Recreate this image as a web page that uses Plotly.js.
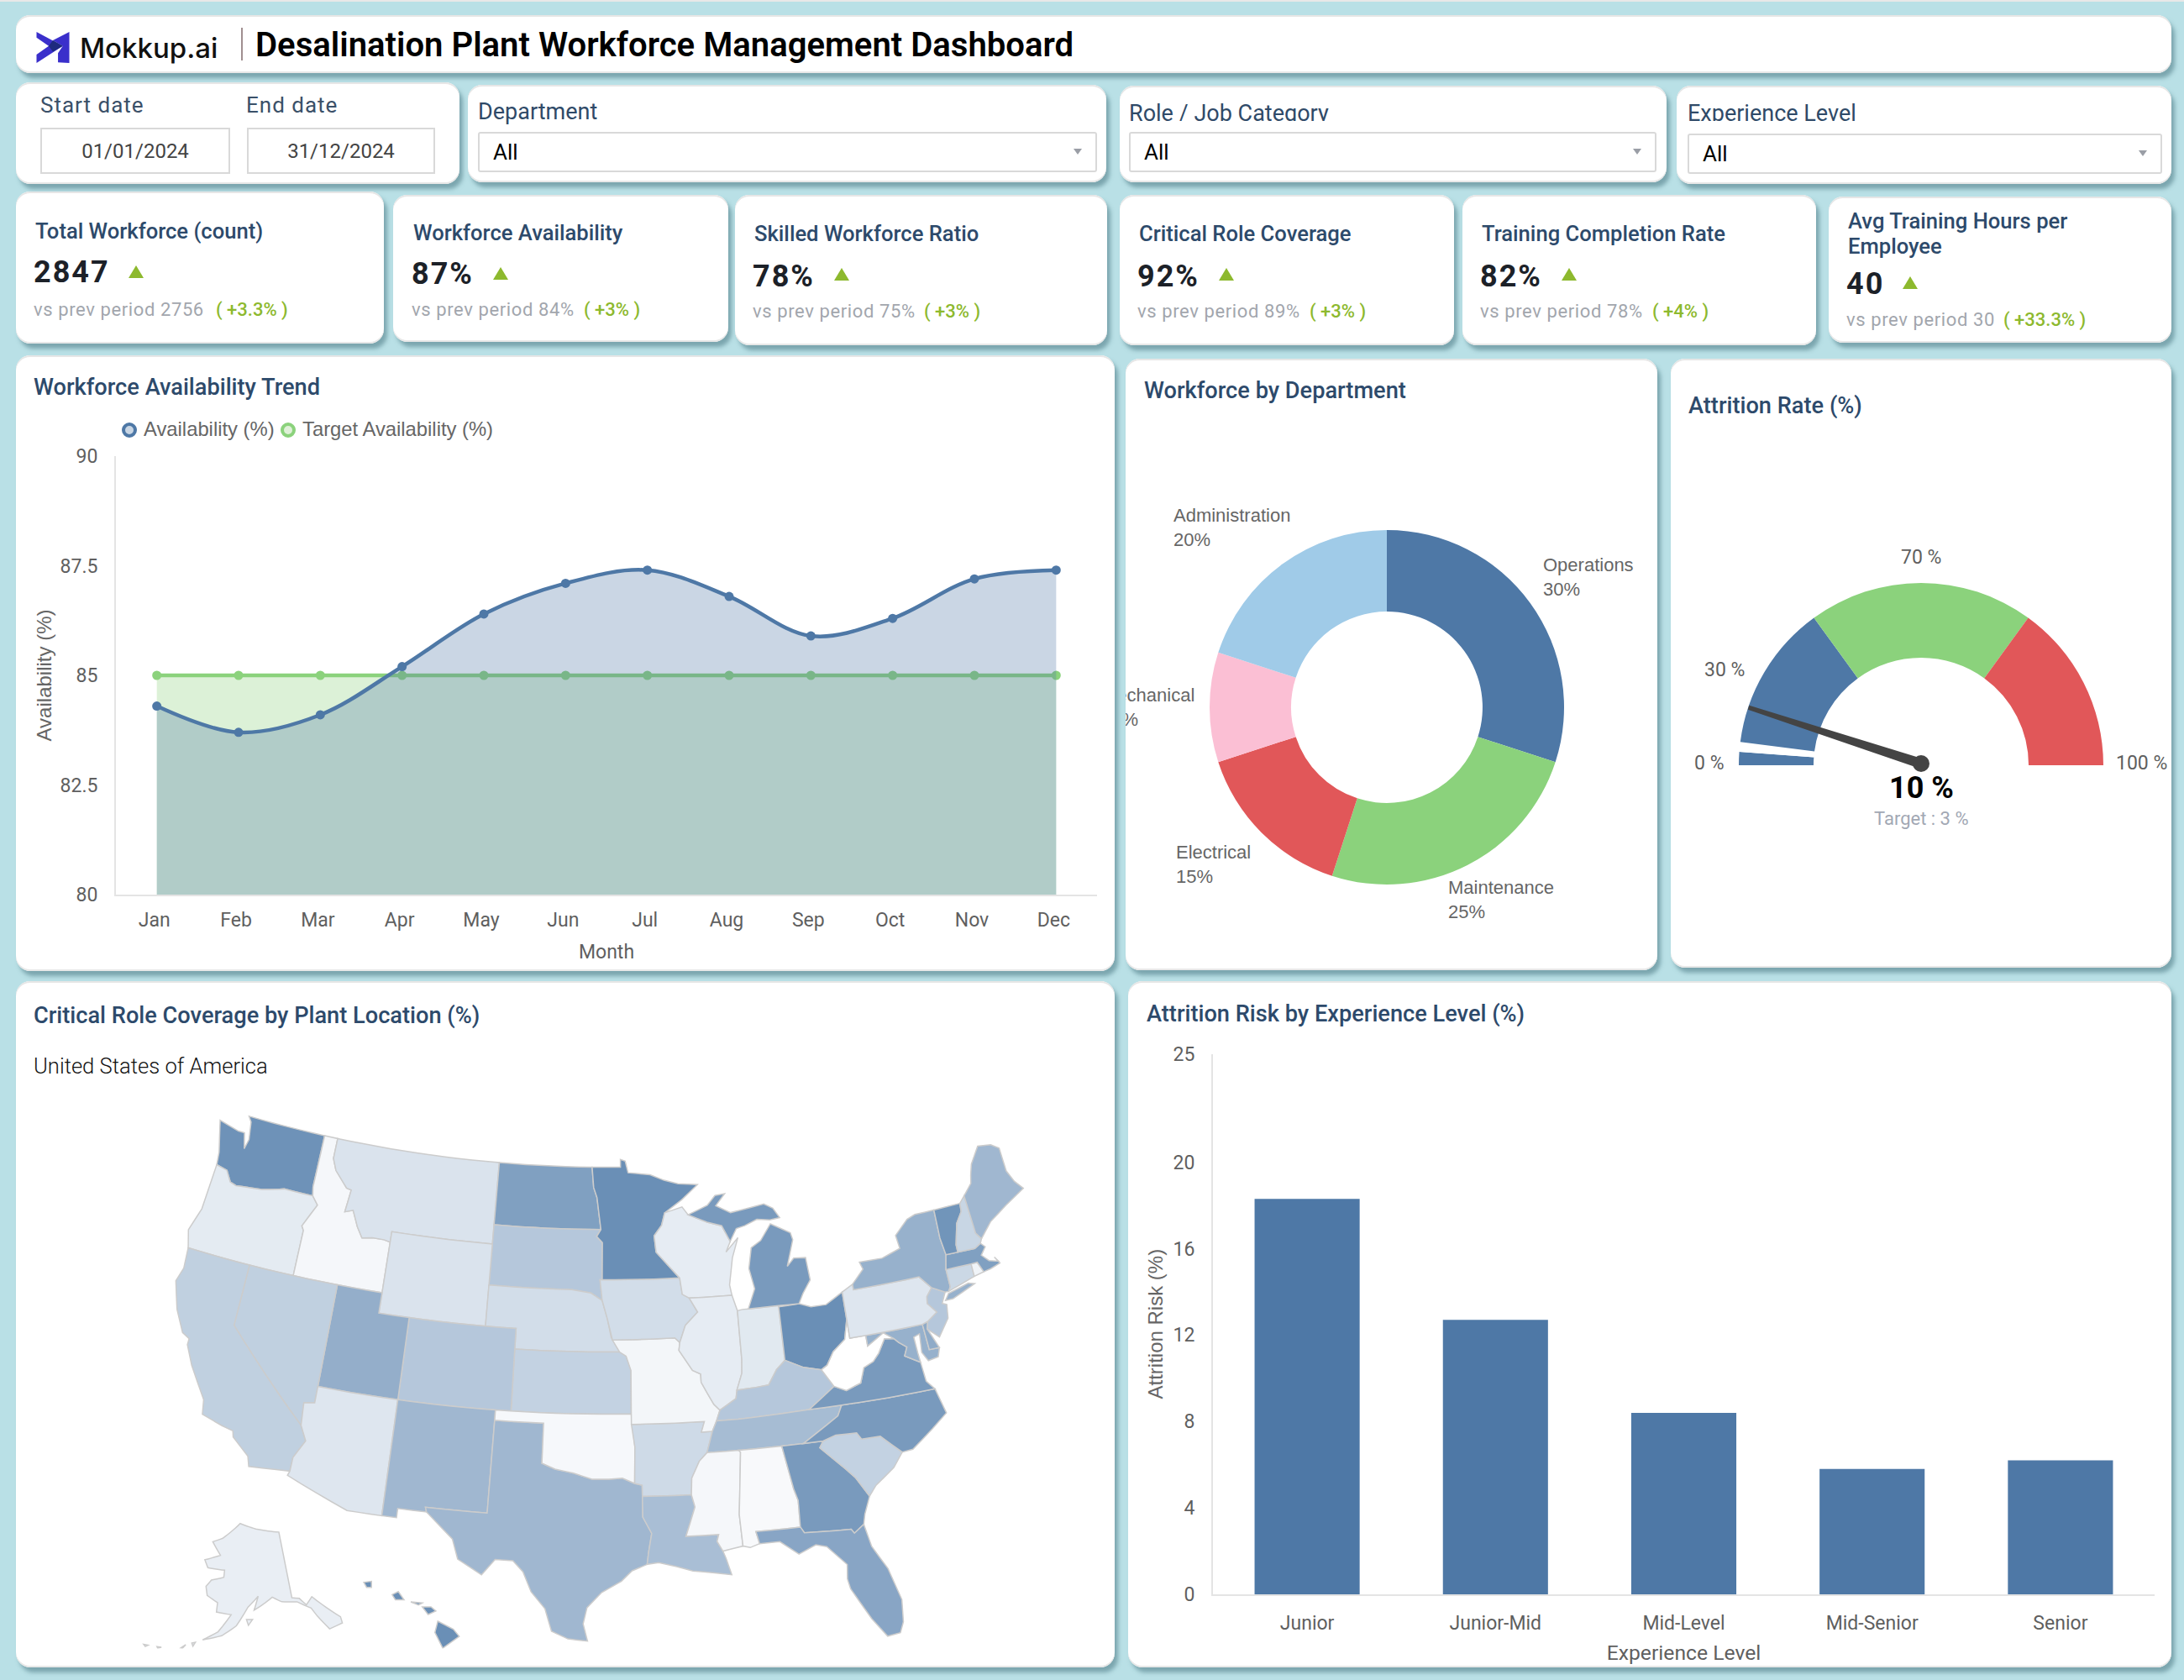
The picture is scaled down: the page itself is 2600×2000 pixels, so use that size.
<!DOCTYPE html>
<html><head><meta charset="utf-8">
<script src="https://cdn.plot.ly/plotly-3.0.1.min.js"></script>
<style>
html,body{margin:0;padding:0;background:#b9e0e6;}
#root{position:relative;width:2600px;height:2000px;overflow:hidden;background:#b9e0e6;font-family:Roboto,sans-serif}
.card{position:absolute;background:#fff;border-radius:17px;box-shadow:inset 0 2px 0 #e6e6e6,inset 0 -2px 0 #e8e8e8,4px 6px 5px rgba(72,118,130,.55);overflow:hidden}
.t{position:absolute;white-space:nowrap;line-height:1;transform:translateY(-50%)}
.box{position:absolute;background:#fff;border:2px solid #d9d9d9;box-sizing:border-box}
.tri{position:absolute;width:0;height:0;border-left:5px solid transparent;border-right:5px solid transparent;border-top:7px solid #9a9ea6}
.up{position:absolute;width:0;height:0;border-left:9px solid transparent;border-right:9px solid transparent;border-bottom:15px solid #8db92e}
.plot{position:absolute}
</style></head><body><div id="root"></div>
<script>
window.PlotlyGeoAssets={topojson:{usa_110m:{type:'Topology',objects:{},arcs:[]}}};
const months=["Jan","Feb","Mar","Apr","May","Jun","Jul","Aug","Sep","Oct","Nov","Dec"];
const availability=[84.3,83.7,84.1,85.2,86.4,87.1,87.4,86.8,85.9,86.3,87.2,87.4];
const targetAvailability=[85,85,85,85,85,85,85,85,85,85,85,85];
const departments=["Operations","Maintenance","Electrical","Mechanical","Administration"];
const departmentShare=[30,25,15,10,20];
const departmentColors=["#4e78a6","#8bd27c","#e15759","#fbbfd4","#a0cbe8"];
const attritionValue=10, attritionTarget=3;
const gaugeBands=[30,40,30];
const gaugeColors=["#4e78a6","#8bd27c","#e15759"];
const experienceLevels=["Junior","Junior-Mid","Mid-Level","Mid-Senior","Senior"];
const attritionRisk=[18.3,12.7,8.4,5.8,6.2];
const riskTicks=[0,4,8,12,16,20,25];
const stateCodes=["WA","OR","ID","MT","ND","SD","WY","NE","KS","CO","UT","NV","CA","AZ","NM","TX","OK","AR","LA","MO","IA","MN","WI","IL","IN","OH","KY","TN","MS","AL","GA","FL","SC","NC","VA","WV","MD","DE","NJ","PA","NY","CT","RI","MA","VT","NH","ME","MI","AK","HI"];
const stateCoverage=[97,18,7,25,85,50,25,30,40,50,72,42,42,22,64,64,6,33,58,8,30,100,17,17,20,100,50,60,7,5,90,80,40,90,90,0,70,75,50,22,70,35,10,85,95,37,64,90,15,100];
// state outlines: geographic lon/lat, projected by Plotly's albers usa
const stateShapes={
WA:[[[-124.7,48.4],[-123.2,48.15],[-122.75,48.15],[-122.45,47.4],[-122.3,47.9],[-122.5,48.75],[-122.76,49],[-117.03,49],[-117.04,46.42],[-116.92,45.99],[-118.98,46],[-119.3,45.93],[-120.5,45.7],[-121.2,45.65],[-122.3,45.55],[-122.75,45.65],[-123.2,46.15],[-124,46.27],[-124.1,46.9]]],
OR:[[[-124,46.27],[-123.2,46.15],[-122.75,45.65],[-122.3,45.55],[-121.2,45.65],[-120.5,45.7],[-119.3,45.93],[-118.98,46],[-116.92,45.99],[-116.46,45.6],[-116.85,45],[-117.2,44.45],[-117.03,44.25],[-117.03,42],[-124.21,42],[-124.55,42.84],[-124.1,44]]],
ID:[[[-117.03,49],[-116.05,49],[-116.05,48],[-115.7,47.45],[-114.7,46.7],[-114.35,46.65],[-114.5,45.55],[-113.95,45.7],[-113.45,44.95],[-113,44.45],[-112.3,44.55],[-111.5,44.55],[-111.05,44.48],[-111.05,42],[-117.03,42],[-117.03,44.25],[-117.2,44.45],[-116.85,45],[-116.46,45.6],[-116.92,45.99],[-117.04,46.42]]],
MT:[[[-116.05,49],[-104.05,49],[-104.05,45],[-111.05,45],[-111.05,44.48],[-111.5,44.55],[-112.3,44.55],[-113,44.45],[-113.45,44.95],[-113.95,45.7],[-114.5,45.55],[-114.35,46.65],[-114.7,46.7],[-115.7,47.45],[-116.05,48]]],
WY:[[[-111.05,45],[-104.05,45],[-104.05,41],[-111.05,41]]],
ND:[[[-104.05,49],[-97.23,49],[-97.1,48],[-96.85,47.5],[-96.56,45.94],[-104.05,45.94]]],
SD:[[[-104.05,45.94],[-96.56,45.94],[-96.85,45.6],[-96.45,45.3],[-96.45,43.5],[-96.6,43.5],[-96.45,42.5],[-97.2,42.85],[-98.5,43],[-104.05,43]]],
NE:[[[-104.05,43],[-98.5,43],[-97.2,42.85],[-96.45,42.5],[-96.1,41.6],[-95.85,40.7],[-95.31,40],[-102.05,40],[-102.05,41],[-104.05,41]]],
KS:[[[-102.05,40],[-95.31,40],[-94.9,39.8],[-94.6,39.1],[-94.62,37],[-102.04,37]]],
CO:[[[-109.05,41],[-102.05,41],[-102.05,40],[-102.04,37],[-109.05,37]]],
UT:[[[-114.05,42],[-111.05,42],[-111.05,41],[-109.05,41],[-109.05,37],[-114.05,37]]],
NV:[[[-120,42],[-114.05,42],[-114.05,36.2],[-114.7,36.1],[-114.6,35],[-120,39]]],
CA:[[[-124.21,42],[-120,42],[-120,39],[-114.6,35],[-114.15,34.3],[-114.7,33.4],[-114.72,32.72],[-117.12,32.53],[-117.3,33],[-118.4,33.75],[-118.5,34.03],[-119.2,34.15],[-120.5,34.45],[-120.65,35.15],[-121.9,36.6],[-122.5,37.5],[-122.5,37.8],[-123,38],[-123.75,39],[-124.35,40.3],[-124.1,41]]],
AZ:[[[-114.05,37],[-109.05,37],[-109.05,31.33],[-111.07,31.33],[-114.81,32.5],[-114.72,32.72],[-114.7,33.4],[-114.15,34.3],[-114.6,35],[-114.7,36.1],[-114.05,36.2]]],
NM:[[[-109.05,37],[-103,37],[-103.04,32],[-106.62,32],[-106.53,31.78],[-108.2,31.78],[-108.2,31.33],[-109.05,31.33]]],
TX:[[[-103,36.5],[-100,36.5],[-100,34.56],[-99.2,34.3],[-98.1,34.13],[-97,33.85],[-96,33.85],[-95.2,33.9],[-94.48,33.64],[-94.04,33.55],[-94.04,33],[-94.04,32],[-93.55,31.2],[-93.75,30.3],[-93.85,29.7],[-94.7,29.4],[-95.3,28.9],[-96.4,28.35],[-97.2,27.6],[-97.4,26.8],[-97.15,25.96],[-98.2,26.05],[-99.1,26.4],[-99.5,27.5],[-100.3,28.3],[-100.8,29.25],[-101.4,29.77],[-102.4,29.77],[-103.1,28.98],[-104.5,29.65],[-104.9,30.6],[-106.53,31.78],[-106.62,32],[-103.04,32]]],
OK:[[[-103,37],[-94.62,37],[-94.43,35.4],[-94.48,33.64],[-95.2,33.9],[-96,33.85],[-97,33.85],[-98.1,34.13],[-99.2,34.3],[-100,34.56],[-100,36.5],[-103,36.5]]],
AR:[[[-94.62,36.5],[-90.15,36.5],[-90.37,36],[-89.7,36],[-90.1,35],[-90.6,34.6],[-91.1,33.8],[-91.17,33],[-94.04,33],[-94.04,33.55],[-94.48,33.64],[-94.43,35.4]]],
LA:[[[-94.04,33],[-91.17,33],[-91,32.4],[-91.6,31],[-89.73,31],[-89.85,30.67],[-89.55,30.18],[-89.4,29.8],[-89.15,29],[-90.1,29.15],[-91.3,29.3],[-92.2,29.55],[-93.2,29.77],[-93.85,29.7],[-93.75,30.3],[-93.55,31.2],[-94.04,32]]],
MO:[[[-95.77,40.58],[-91.73,40.61],[-91.42,40.38],[-91.5,40],[-90.7,39],[-90.2,38.8],[-90.2,38.4],[-89.5,37.3],[-89.15,37],[-89.4,36.5],[-89.7,36],[-90.37,36],[-90.15,36.5],[-94.62,36.5],[-94.62,37],[-94.6,39.1],[-94.9,39.8],[-95.31,40]]],
IA:[[[-96.45,43.5],[-91.22,43.5],[-91.1,42.7],[-90.65,42.5],[-90.15,41.8],[-91,41.2],[-91.42,40.38],[-91.73,40.61],[-95.77,40.58],[-96.1,41.6],[-96.45,42.5],[-96.6,43.5]]],
MN:[[[-97.23,49],[-95.15,49],[-95.15,49.38],[-94.8,49.3],[-94.6,48.72],[-93,48.6],[-92,48.3],[-91,48.1],[-89.6,48],[-90.8,47.3],[-92.05,46.7],[-92.3,46.1],[-92.85,45.6],[-92.75,44.8],[-91.22,43.5],[-96.45,43.5],[-96.45,45.3],[-96.85,45.6],[-96.56,45.94],[-96.85,47.5],[-97.1,48]]],
WI:[[[-92.05,46.7],[-90.8,46.95],[-90.4,46.55],[-89.1,46.13],[-88.1,45.9],[-87.6,45.1],[-87.95,44.6],[-87.05,45.25],[-87.55,44.3],[-87.9,43],[-87.8,42.49],[-90.65,42.5],[-91.1,42.7],[-91.22,43.5],[-92.75,44.8],[-92.85,45.6],[-92.3,46.1]]],
IL:[[[-90.65,42.5],[-87.8,42.49],[-87.53,41.72],[-87.53,39.35],[-87.6,38.7],[-88,37.9],[-88.1,37.5],[-89.15,37],[-89.5,37.3],[-90.2,38.4],[-90.2,38.8],[-90.7,39],[-91.5,40],[-91.42,40.38],[-91,41.2],[-90.15,41.8]]],
IN:[[[-87.53,41.72],[-87.2,41.76],[-86.8,41.76],[-84.8,41.76],[-84.81,39.1],[-85.4,38.7],[-86,38],[-86.8,37.95],[-88,37.9],[-87.6,38.7],[-87.53,39.35]]],
OH:[[[-84.8,41.7],[-83.45,41.73],[-82.7,41.5],[-81.7,41.5],[-80.52,41.98],[-80.52,40.64],[-80.85,39.7],[-81.7,39.2],[-82.2,38.6],[-82.6,38.42],[-83.7,38.65],[-84.81,39.1]]],
MI:[[[-86.8,41.76],[-84.8,41.76],[-83.45,41.73],[-83.1,42.2],[-82.5,42.8],[-82.6,43.9],[-83.4,43.95],[-83.9,43.6],[-83.3,44.85],[-83.4,45.2],[-84.7,45.75],[-85.5,45],[-86.2,44.7],[-86.5,43.7],[-86.25,42.7]],[[-90.4,46.55],[-89,46.95],[-88.4,47.4],[-87.7,47.45],[-88.4,46.9],[-87.4,46.5],[-86,46.65],[-85,46.75],[-84.4,46.5],[-84,46],[-84.7,45.95],[-85.6,46.05],[-86.5,45.8],[-87.1,45.7],[-87.6,45.1],[-88.1,45.9],[-89.1,46.13]]],
KY:[[[-89.4,36.5],[-89.15,37],[-88.1,37.5],[-88,37.9],[-86.8,37.95],[-86,38],[-85.4,38.7],[-84.81,39.1],[-83.7,38.65],[-82.6,38.42],[-81.97,37.54],[-83.68,36.6],[-88.07,36.5]]],
TN:[[[-90.1,35],[-89.7,36],[-89.4,36.5],[-88.07,36.5],[-83.68,36.6],[-81.68,36.59],[-82,36.1],[-84.3,35]]],
MS:[[[-91.17,33],[-91.1,33.8],[-90.6,34.6],[-90.1,35],[-88.2,35],[-88.1,34.9],[-88.47,31.9],[-88.4,30.35],[-89.55,30.18],[-89.85,30.67],[-89.73,31],[-91.6,31],[-91,32.4]]],
AL:[[[-88.2,35],[-85.6,35],[-85.18,32.87],[-85,32.3],[-85.05,31],[-87.6,31],[-87.45,30.4],[-88,30.25],[-88.4,30.35],[-88.47,31.9],[-88.1,34.9]]],
GA:[[[-85.6,35],[-84.3,35],[-83.1,35],[-83.35,34.7],[-82,33.5],[-81.5,33],[-80.87,32.03],[-81.3,31.2],[-81.45,30.72],[-82.05,30.36],[-82.2,30.57],[-84.86,30.7],[-85.05,31],[-85,32.3],[-85.18,32.87]]],
FL:[[[-87.6,31],[-85.05,31],[-84.86,30.7],[-82.2,30.57],[-82.05,30.36],[-81.45,30.72],[-81.2,29.6],[-80.5,28.4],[-80.03,26.8],[-80.15,25.7],[-80.4,25.2],[-81.1,25.13],[-81.8,26.1],[-82.7,27.7],[-82.8,28.2],[-82.7,28.9],[-83.7,29.9],[-84.3,30.05],[-85.3,29.7],[-86.3,30.4],[-87.45,30.4]]],
SC:[[[-83.1,35],[-82.3,35.2],[-81.04,35.15],[-80.8,34.82],[-79.67,34.8],[-78.55,33.86],[-79.2,33.2],[-80.4,32.5],[-80.87,32.03],[-81.5,33],[-82,33.5],[-83.35,34.7]]],
NC:[[[-84.3,35],[-82,36.1],[-81.68,36.59],[-75.87,36.55],[-75.5,35.3],[-76.5,34.7],[-77.9,33.9],[-78.55,33.86],[-79.67,34.8],[-80.8,34.82],[-81.04,35.15],[-82.3,35.2],[-83.1,35]]],
VA:[[[-83.68,36.6],[-81.97,37.54],[-81.25,37.25],[-80.3,37.5],[-79.95,38.2],[-79.3,38.42],[-78.87,38.77],[-78.35,39.4],[-77.75,39.32],[-77.5,39.1],[-77.05,38.8],[-77.3,38.4],[-76.4,37.95],[-76.3,37],[-75.87,36.55],[-81.68,36.59]]],
WV:[[[-82.6,38.42],[-82.2,38.6],[-81.7,39.2],[-80.85,39.7],[-80.52,40.64],[-80.52,39.72],[-79.48,39.72],[-79.48,39.2],[-78.35,39.7],[-77.75,39.32],[-78.35,39.4],[-78.87,38.77],[-79.3,38.42],[-79.95,38.2],[-80.3,37.5],[-81.25,37.25],[-81.97,37.54]]],
MD:[[[-79.48,39.72],[-75.79,39.72],[-75.7,38.46],[-75.05,38.45],[-75.25,38.03],[-75.9,37.95],[-76.2,38.4],[-76.1,39.3],[-76.5,39.2],[-76.45,38.4],[-76.4,37.95],[-77.3,38.4],[-77.05,38.8],[-77.5,39.1],[-77.75,39.32],[-78.35,39.7],[-79.48,39.2]]],
DE:[[[-75.79,39.72],[-75.42,39.8],[-75.55,39.45],[-75.05,38.45],[-75.7,38.46]]],
PA:[[[-80.52,41.98],[-79.76,42.27],[-79.76,42],[-75.35,42],[-74.7,41.36],[-75.13,40.98],[-75.2,40.65],[-74.72,40.15],[-75.42,39.8],[-75.79,39.72],[-80.52,39.72]]],
NJ:[[[-75.13,40.98],[-74.7,41.36],[-73.9,41],[-74.25,40.5],[-73.98,40.4],[-74.1,39.75],[-74.9,38.95],[-75.55,39.45],[-75.42,39.8],[-74.72,40.15],[-75.2,40.65]]],
NY:[[[-79.76,42.27],[-78.9,42.9],[-79.05,43.27],[-77.5,43.25],[-76.2,43.55],[-76.3,44.2],[-75.3,44.85],[-74.7,45],[-73.35,45],[-73.4,43.6],[-73.27,42.75],[-73.5,42.05],[-73.49,41.2],[-73.65,41],[-73.9,41],[-74.7,41.36],[-75.35,42],[-79.76,42]],[[-74,40.6],[-73.7,40.9],[-72.3,41.15],[-71.9,41.05],[-73.5,40.6]]],
CT:[[[-73.5,42.05],[-71.8,42.02],[-71.8,41.4],[-73.65,41],[-73.49,41.2]]],
RI:[[[-71.8,42.02],[-71.38,42.02],[-71.12,41.5],[-71.8,41.4]]],
MA:[[[-73.5,42.05],[-73.27,42.75],[-71.3,42.7],[-70.85,42.87],[-70.6,42.65],[-71,42.3],[-70.6,41.95],[-70,41.8],[-70.2,42.05],[-69.95,41.7],[-70.65,41.55],[-71.12,41.5],[-71.38,42.02],[-71.8,42.02]]],
VT:[[[-73.35,45],[-71.5,45],[-71.55,44.6],[-72.05,44.1],[-72.45,43.1],[-72.46,42.73],[-73.27,42.75],[-73.4,43.6]]],
NH:[[[-71.5,45],[-71.08,45.3],[-70.98,43.4],[-70.7,43.07],[-70.85,42.87],[-71.3,42.7],[-72.46,42.73],[-72.45,43.1],[-72.05,44.1],[-71.55,44.6]]],
ME:[[[-71.08,45.3],[-70.4,45.8],[-70.25,46.2],[-70,46.7],[-69.22,47.46],[-68.3,47.35],[-67.79,47.07],[-67.78,45.9],[-67.45,45.3],[-67,44.85],[-68.5,44.3],[-69.8,43.75],[-70.7,43.07],[-70.98,43.4]]],
AK:[[[-141,69.65],[-141,60.3],[-139,60],[-137.5,58.9],[-135.5,59.8],[-133.5,58.4],[-130,55.9],[-130.1,55],[-133.5,54.8],[-135.5,57],[-136.5,58.3],[-139.8,59.6],[-144,60],[-146.5,60.8],[-149,60],[-151.8,59.2],[-150.5,61.1],[-153.5,59.6],[-156.5,57],[-160,55.5],[-164.5,54.6],[-161,56],[-158,58.5],[-162,58.7],[-162,60],[-165.2,60.8],[-166,62],[-164.7,63],[-161,63.6],[-161,64.6],[-166.5,64.6],[-168,65.6],[-163,66.6],[-166.5,68.3],[-163,69],[-156.5,71.3],[-150,70.5]],[[-166.9,53.9],[-166.1,54.1],[-166.5,53.5]],[[-169.2,52.9],[-168.2,53.5],[-168.8,52.9]],[[-174.5,52.2],[-173.5,52.3],[-174.2,52]],[[-177.5,51.9],[-176.5,52],[-177,51.7]],[[-153.9,57.9],[-152.3,57.9],[-153.4,57.1]]],
HI:[[[-155.9,20.25],[-155.1,19.85],[-154.8,19.5],[-155.65,18.93],[-156.05,19.7]],[[-156.7,20.95],[-156.25,20.95],[-156,20.75],[-156.4,20.58]],[[-158.27,21.55],[-157.95,21.7],[-157.65,21.3],[-158.1,21.3]],[[-159.75,22.15],[-159.35,22.2],[-159.35,21.9],[-159.6,21.9]],[[-157.3,21.2],[-156.7,21.15],[-156.9,21.05]]]
};
const kpis=[
 {title:["Total Workforce (count)"],value:"2847",prev:"vs prev period 2756",delta:"( +3.3% )",box:[19,228,438,181],tx:42,ty:275.5,vx:40,vy:323.5,tri:153,triy:316,sy:369,px:257},
 {title:["Workforce Availability"],value:"87%",prev:"vs prev period 84%",delta:"( +3% )",box:[468,232,399,175],tx:492,ty:277.5,vx:490,vy:325.5,tri:587,triy:318,sy:369,px:695},
 {title:["Skilled Workforce Ratio"],value:"78%",prev:"vs prev period 75%",delta:"( +3% )",box:[875,232,443,179],tx:898,ty:278.5,vx:896,vy:328.5,tri:993,triy:319,sy:371,px:1100},
 {title:["Critical Role Coverage"],value:"92%",prev:"vs prev period 89%",delta:"( +3% )",box:[1333,232,398,179],tx:1356,ty:278.5,vx:1354,vy:328.5,tri:1451,triy:319,sy:371,px:1559},
 {title:["Training Completion Rate"],value:"82%",prev:"vs prev period 78%",delta:"( +4% )",box:[1741,232,421,179],tx:1764,ty:278.5,vx:1762,vy:328.5,tri:1859,triy:319,sy:371,px:1967},
 {title:["Avg Training Hours per","Employee"],value:"40",prev:"vs prev period 30",delta:"( +33.3% )",box:[2177,234,408,174],tx:2200,ty:263.5,vx:2198,vy:337.5,tri:2265,triy:329,sy:381,px:2385}
];
const root=document.getElementById('root');
function el(cls,x,y,w,h,parent){const d=document.createElement('div');d.className=cls;d.style.left=x+'px';d.style.top=y+'px';if(w!=null)d.style.width=w+'px';if(h!=null)d.style.height=h+'px';(parent||root).appendChild(d);return d;}
function txt(s,x,y,size,color,weight,extra){const d=el('t',x,y);d.textContent=s;d.style.fontSize=size+'px';d.style.color=color;d.style.fontWeight=weight||400;if(extra)Object.assign(d.style,extra);return d;}
function card(x,y,w,h){return el('card',x,y,w,h);}
const navy="#2d4a6b";
el('',0,0,2600,2).style.cssText+=';position:absolute;background:#e8e8e8';
// header
card(19,18,2566,69);
root.insertAdjacentHTML('beforeend','<svg style="position:absolute;left:43px;top:38px" width="40" height="37" viewBox="42 55 116 110"><polygon points="100,85 158,55 158,165 118,163 118,130 135,105" fill="#3a2fcb"/><polygon points="42,55 135,105 42,165 42,135 85,105 42,75" fill="#3a2fcb"/><polygon points="85,105 100,85 135,105 100,125" fill="#1e2a7e"/></svg>');
txt("Mokkup.ai",95,57,33,"#111",500,{fontFamily:'Inter'});
el('',287,33,2,39).style.cssText+=';position:absolute;background:#a08f90';
txt("Desalination Plant Workforce Management Dashboard",304,54,40.1,"#000",600);
// filters
card(19,98,528,121);
txt("Start date",48,125,26,"#3a5068",400,{letterSpacing:'1px'});
txt("End date",293,125,26,"#3a5068",400,{letterSpacing:'1px'});
[[48,"01/01/2024",226],[294,"31/12/2024",224]].forEach(a=>{el('box',a[0],152,a[2],55);txt(a[1],a[0],180,24,"#444",400,{width:a[2]+'px',textAlign:'center'});});
const filters=[
 {name:"Department",box:[557,101,760,116],lx:569,ly:133,sel:[569,157,737,48],clipH:34},
 {name:"Role / Job Category",box:[1333,102,651,115],lx:1344,ly:135,sel:[1344,157,628,48],clipH:26},
 {name:"Experience Level",box:[1996,102,589,117],lx:2009,ly:135,sel:[2009,159,565,48],clipH:26}];
filters.forEach(f=>{card(...f.box);
 const clip=el('',f.lx,118,560,f.clipH);clip.style.position='absolute';clip.style.overflow='hidden';
 const s=txt(f.name,0,f.ly-118,27,"#2f4a68",400);
 clip.appendChild(s);
 const b=el('box',...f.sel);b.style.borderRadius='3px';
 txt("All",f.sel[0]+18,f.sel[1]+24,26,"#000",400);
 el('tri',f.sel[0]+f.sel[2]-28,f.sel[1]+20);
});
// kpis
kpis.forEach(k=>{card(...k.box);
 k.title.forEach((l,i)=>txt(l,k.tx,k.ty+i*30,25.6,navy,500));
 txt(k.value,k.vx,k.vy,36,"#1c2128",700,{letterSpacing:'2px'});
 el('up',k.tri,k.triy);
 txt(k.prev,k.vx,k.sy,22,"#a2a6ad",400,{letterSpacing:'.6px'});
 txt(k.delta,k.px,k.sy,22,"#8db92e",500);
});
// chart cards
const cTrend=card(19,423,1308,733), cDonut=card(1340,427,633,728), cGauge=card(1989,427,596,725), cMap=card(19,1168,1308,817), cBar=card(1343,1168,1242,817);
function plotDiv(x,y,w,h,parent){return el('plot',x,y,w,h,parent);}
const dTrend=plotDiv(0,0,1308,733,cTrend), dDonut=plotDiv(-60,0,693,728,cDonut), dGauge=plotDiv(0,0,596,725,cGauge), dMap=plotDiv(0,0,1308,817,cMap), dBar=plotDiv(0,0,1242,817,cBar);
txt("Workforce Availability Trend",40,461.5,27.2,navy,500);
txt("Workforce by Department",1362,465.5,27.2,navy,500);
txt("Attrition Rate (%)",2010,484,27.2,navy,500);
txt("Critical Role Coverage by Plant Location (%)",40,1209.5,27.2,navy,500);
txt("United States of America",40,1269.5,25.6,"#111",300);
txt("Attrition Risk by Experience Level (%)",1365,1207.5,27.2,navy,500);
const gray="#5f5f5f", tickFont="Roboto, sans-serif", titleFont="Liberation Sans, Arial, sans-serif", tickSize=23;
const cfg={staticPlot:true,displayModeBar:false};
// trend
const blue="#4e78a6", green="#8bd27c";
const TW=1308,TH=733,TM={l:119,r:21,t:120,b:91};
const tx=v=>(v-TM.l)/(TW-TM.l-TM.r), ty=v=>1-(v-TM.t)/(TH-TM.t-TM.b);
function legendMark(cx,cy,color,fill){const rx=7/(TW-TM.l-TM.r),ry=7/(TH-TM.t-TM.b);return {type:'circle',xref:'paper',yref:'paper',x0:tx(cx)-rx,x1:tx(cx)+rx,y0:ty(cy)-ry,y1:ty(cy)+ry,fillcolor:fill,line:{color:color,width:4}};}
const legendLabel=(t,x)=>({text:t,xref:'paper',yref:'paper',x:tx(x),y:ty(88),xanchor:'left',yanchor:'middle',showarrow:false,font:{size:23.8,color:'#666',family:titleFont}});
Plotly.newPlot(dTrend,[
 {x:months,y:targetAvailability,name:"Target Availability (%)",type:'scatter',mode:'lines+markers',fill:'tozeroy',fillcolor:'rgba(139,210,124,.3)',line:{color:green,width:4.5},marker:{color:green,size:11}},
 {x:months,y:availability,name:"Availability (%)",type:'scatter',mode:'lines+markers',fill:'tozeroy',fillcolor:'rgba(78,120,166,.3)',line:{color:blue,width:4.5,shape:'spline',smoothing:1},marker:{color:blue,size:11}}
],{width:TW,height:TH,margin:TM,paper_bgcolor:'rgba(0,0,0,0)',plot_bgcolor:'rgba(0,0,0,0)',showlegend:false,
 font:{family:tickFont,color:gray,size:tickSize},
 xaxis:{type:'category',range:[-.5,11.5],showgrid:false,showline:true,linecolor:'#e4e4e4',linewidth:2,ticks:'outside',ticklen:8,tickcolor:'rgba(0,0,0,0)',ticklabelshift:-3,tickfont:{size:tickSize,color:gray},title:{text:"Month",standoff:17,font:{size:tickSize,color:gray}}},
 yaxis:{range:[80,90],tickvals:[80,82.5,85,87.5,90],ticktext:["80","82.5","85","87.5","90"],showgrid:false,showline:true,linecolor:'#e4e4e4',linewidth:2,ticks:'outside',ticklen:15,tickcolor:'rgba(0,0,0,0)',tickfont:{size:tickSize,color:gray},title:{text:"Availability (%)",standoff:3,font:{size:24,color:'#666',family:titleFont}},automargin:false},
 shapes:[legendMark(135,89,blue,'#c9d6e4'),legendMark(324,89,green,'#dff0d8')],
 annotations:[legendLabel("Availability (%)",150),legendLabel("Target Availability (%)",339)]
},cfg);
// donut
const DW=693,DH=728,dcx=371,dcy=415,dr=211;
const labelPos=[[1395,628],[1835,687],[1722,1071],[1398,1029],[1309,842]];
const labelOrder=["Administration","Operations","Maintenance","Electrical","Mechanical"];
Plotly.newPlot(dDonut,[{type:'pie',labels:departments,values:departmentShare,hole:.54,sort:false,direction:'clockwise',rotation:0,textinfo:'none',marker:{colors:departmentColors,line:{width:0}},domain:{x:[(dcx-dr)/DW,(dcx+dr)/DW],y:[1-(dcy+dr)/DH,1-(dcy-dr)/DH]}}],
 {width:DW,height:DH,margin:{l:0,r:0,t:0,b:0},paper_bgcolor:'rgba(0,0,0,0)',showlegend:false,font:{family:titleFont,color:'#666',size:22},
 annotations:labelOrder.map((d,i)=>({text:d+"<br>"+departmentShare[departments.indexOf(d)]+"%",xref:'paper',yref:'paper',x:(labelPos[i][0]-1280)/DW,y:1-(labelPos[i][1]-427)/DH,xanchor:'left',yanchor:'middle',align:'left',showarrow:false,font:{size:22,color:'#666'}}))
},cfg);
// gauge
const GW=596,GH=725,gcx=298,gcy=484,gr=217;
const tLow=attritionTarget-.65,tHigh=attritionTarget+1.1;
const gVals=[tLow,tHigh-tLow,gaugeBands[0]-tHigh,gaugeBands[1],gaugeBands[2],100];
const gCols=[gaugeColors[0],"#ffffff",gaugeColors[0],gaugeColors[1],gaugeColors[2],"rgba(0,0,0,0)"];
const ang=attritionValue/100*Math.PI, nl=216, hy=gcy-2;
const px=v=>v/GW, py=v=>1-v/GH;
const ux=-Math.cos(ang),uy=-Math.sin(ang),nx=-uy,ny=ux;
const needle=`M ${px(gcx+ux*nl-nx*2.5)} ${py(hy+uy*nl-ny*2.5)} L ${px(gcx+ux*nl+nx*2.5)} ${py(hy+uy*nl+ny*2.5)} L ${px(gcx+nx*6)} ${py(hy+ny*6)} L ${px(gcx-nx*6)} ${py(hy-ny*6)} Z`;
Plotly.newPlot(dGauge,[{type:'pie',values:gVals,hole:.59,sort:false,direction:'clockwise',rotation:270,textinfo:'none',marker:{colors:gCols,line:{width:0}},domain:{x:[(gcx-gr)/GW,(gcx+gr)/GW],y:[1-(gcy+gr)/GH,1-(gcy-gr)/GH]}}],
 {width:GW,height:GH,margin:{l:0,r:0,t:0,b:0},paper_bgcolor:'rgba(0,0,0,0)',showlegend:false,font:{family:tickFont,color:gray,size:23},
 shapes:[{type:'path',xref:'paper',yref:'paper',path:needle,fillcolor:'#444',line:{width:0}},{type:'circle',xref:'paper',yref:'paper',x0:px(gcx-10),x1:px(gcx+10),y0:py(hy+10),y1:py(hy-10),fillcolor:'#444',line:{width:0}}],
 annotations:[
  {text:"0 %",x:px(65),y:py(481),xanchor:'right'},{text:"30 %",x:px(64),y:py(370),xanchor:'center'},{text:"70 %",x:px(298),y:py(236),xanchor:'center'},{text:"100 %",x:px(528),y:py(481),xanchor:'left'},
  {text:"<b>"+attritionValue+" %</b>",x:px(298),y:py(511),xanchor:'center',font:{size:36,color:'#000',family:'Roboto'}},
  {text:"Target : "+attritionTarget+" %",x:px(298),y:py(547),xanchor:'center',font:{size:22,color:'#a2a8b4',family:tickFont}}
 ].map(a=>Object.assign({xref:'paper',yref:'paper',showarrow:false,yanchor:'middle',font:{size:23,color:gray}},a))
},cfg);
// map
function ring(r){ // densify long edges so parallels follow the projection, wind clockwise for d3
 const out=[];for(let i=0;i<r.length;i++){const a=r[i],b=r[(i+1)%r.length];const n=Math.max(1,Math.ceil(Math.max(Math.abs(b[0]-a[0]),Math.abs(b[1]-a[1]))));for(let j=0;j<n;j++)out.push([a[0]+(b[0]-a[0])*j/n,a[1]+(b[1]-a[1])*j/n]);}
 let s=0;for(let i=0;i<out.length;i++){const a=out[i],b=out[(i+1)%out.length];s+=(b[0]-a[0])*(b[1]+a[1]);}
 if(s<0)out.reverse();out.push(out[0]);return out;}
const stateGeo={type:'FeatureCollection',features:stateCodes.map(c=>({type:'Feature',id:c,properties:{},geometry:{type:'MultiPolygon',coordinates:stateShapes[c].map(r=>[ring(r)])}}))};
Plotly.newPlot(dMap,[{type:'choropleth',geojson:stateGeo,locationmode:'geojson-id',locations:stateCodes,z:stateCoverage,zmin:0,zmax:100,showscale:false,colorscale:[[0,'#ffffff'],[1,'#6a8fb6']],marker:{line:{color:'#cccccc',width:1.5}}}],
 {width:1308,height:817,margin:{l:0,r:0,t:0,b:0},paper_bgcolor:'rgba(0,0,0,0)',geo:{scope:'usa',projection:{type:'albers usa',scale:1.0376},showland:false,showcoastlines:false,showframe:false,showlakes:false,showrivers:false,showcountries:false,showsubunits:false,showocean:false,bgcolor:'rgba(0,0,0,0)',domain:{x:[.062,1],y:[.0201,.8206]}}},cfg);
// bar
const BW=1242,BH=817,BM={l:101,r:20,t:87,b:87};
Plotly.newPlot(dBar,[{type:'bar',x:experienceLevels,y:attritionRisk,marker:{color:blue},width:.558}],
 {width:BW,height:BH,margin:BM,paper_bgcolor:'rgba(0,0,0,0)',plot_bgcolor:'rgba(0,0,0,0)',font:{family:tickFont,color:gray,size:tickSize},
 xaxis:{type:'category',showgrid:false,showline:true,linecolor:'#e4e4e4',linewidth:2,ticks:'outside',ticklen:12,tickcolor:'rgba(0,0,0,0)',title:{text:"Experience Level",standoff:14,font:{size:24.7,color:gray}}},
 yaxis:{range:[0,25],tickvals:riskTicks,showgrid:false,showline:true,linecolor:'#e4e4e4',linewidth:2,ticks:'outside',ticklen:15,tickcolor:'rgba(0,0,0,0)'},
 annotations:[{text:"Attrition Risk (%)",xref:'paper',yref:'paper',x:(1375-1343-BM.l)/(BW-BM.l-BM.r),y:.5,textangle:-90,xanchor:'center',yanchor:'middle',showarrow:false,font:{size:24,color:'#666',family:titleFont}}]
},cfg);
</script></body></html>
